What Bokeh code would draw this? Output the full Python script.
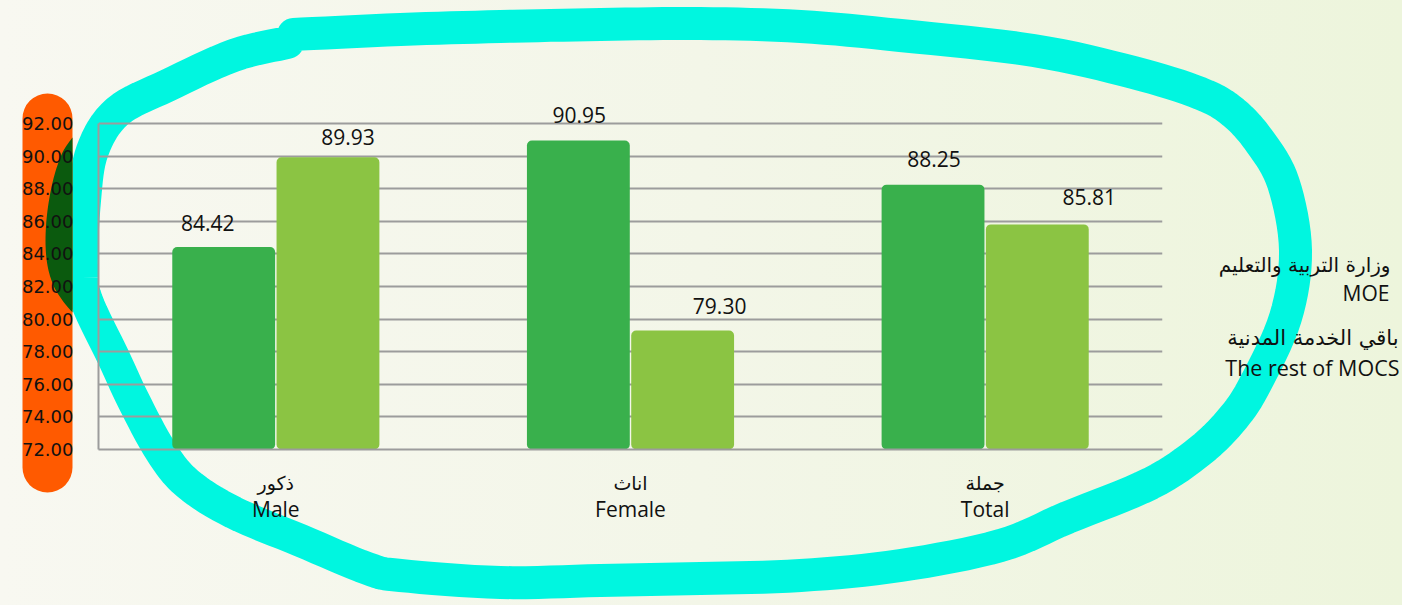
import json
from bokeh.plotting import figure
from bokeh.layouts import column
from bokeh.models import (ColumnDataSource, FactorRange, Range1d, CategoricalAxis,
                          FixedTicker, NumeralTickFormatter, LabelSet,
                          CustomJSTickFormatter)
from bokeh.transform import dodge
from bokeh.core.properties import value
from bokeh.embed import file_html
from bokeh.resources import INLINE

# ---------------- data ----------------
categories = ["Male", "Female", "Total"]
categories_ar = ["ذكور", "اناث", "جملة"]
moe = [84.42, 90.95, 88.25]
mocs = [89.93, 79.30, 85.81]
series_ar = ["وزارة التربية والتعليم", "باقي الخدمة المدنية"]
series_en = ["MOE", "The rest of MOCS"]
y_ticks = [72, 74, 76, 78, 80, 82, 84, 86, 88, 90, 92]

# ---------------- style / layout ----------------
W, H = 1402, 605
FL, FT, FR, FB = 98, 103, 1162, 449          # frame edges in page px
Y_TOP = 72 + (FB - FT) / ((FB - 123) / 20.0)  # keep 92 gridline at y=123

MOE_COLOR = "#39B04C"
MOCS_COLOR = "#8BC443"
GRID = "#9C9C9C"
TXT = "#111111"
moe_dx = [-16, 1, 1]
moe_dy = [16, 18, 18]
mocs_dx = [20, 37, 52]
mocs_dy = [12, 17, 19]

# decoration shapes (page pixel coords)
loop_x = [293, 400, 500, 600, 700, 800, 900, 1033, 1133, 1200, 1233, 1260, 1283, 1295,
          1285, 1255, 1233, 1200, 1150, 1067, 1000, 900, 800, 700, 600, 500, 400, 367,
          300, 233, 187, 160, 133, 113, 86, 81, 84, 92, 117, 167, 233, 287]
loop_y = [34, 29, 26, 24, 23, 26, 35, 50, 72, 93, 112, 142, 183, 250,
          317, 383, 417, 450, 483, 517, 545, 565, 575, 578, 580, 582, 575, 568,
          540, 512, 483, 450, 400, 357, 300, 267, 200, 150, 111, 85, 55, 42]
blob_x = [72, 62, 53, 47, 45, 47, 53, 62, 72]
blob_y = [137, 152, 178, 210, 240, 265, 285, 300, 312]


def smooth(xs, ys, n=8):
    """Catmull-Rom smoothing of a hand-drawn decoration path."""
    ox, oy = [], []
    m = len(xs)
    for i in range(m - 1):
        p0 = (xs[max(i - 1, 0)], ys[max(i - 1, 0)])
        p1 = (xs[i], ys[i])
        p2 = (xs[i + 1], ys[i + 1])
        p3 = (xs[min(i + 2, m - 1)], ys[min(i + 2, m - 1)])
        for k in range(n):
            t = k / n
            t2, t3 = t * t, t * t * t
            for idx, out in ((0, ox), (1, oy)):
                out.append(0.5 * ((2 * p1[idx]) + (-p0[idx] + p2[idx]) * t
                                  + (2 * p0[idx] - 5 * p1[idx] + 4 * p2[idx] - p3[idx]) * t2
                                  + (-p0[idx] + 3 * p1[idx] - 3 * p2[idx] + p3[idx]) * t3))
    ox.append(xs[-1])
    oy.append(ys[-1])
    return ox, oy


# ---------------- decoration layer (back) ----------------
deco = figure(width=W, height=H, x_range=Range1d(0, W), y_range=Range1d(H, 0),
              min_border=0, x_axis_location=None, y_axis_location=None,
              output_backend="svg", toolbar_location=None, frame_align=False)
deco.grid.grid_line_color = None
deco.outline_line_color = None
deco.background_fill_alpha = 0
deco.border_fill_alpha = 0
deco.styles = {"background": "linear-gradient(to right, #F8F8F1 0%, #F3F6E8 50%, #EDF5DC 100%)"}

lx, ly = smooth(loop_x, loop_y)
deco.line(lx, ly, line_color="#00F6E0", line_width=33,
          line_join="round", line_cap="round")
deco.quad(left=22, right=72, top=93, bottom=492, fill_color="#FF5A00",
          line_color=None, border_radius=25)
bx, by = smooth(blob_x, blob_y)
deco.patch(bx, by, fill_color="#0B5A0E", line_color=None)

leg_src = ColumnDataSource(dict(
    txt=[series_ar[0], series_en[0], series_ar[1], series_en[1]],
    x=[1390, 1389, 1398, 1399], y=[264, 292, 337, 367],
    font=["DejaVu Sans", "Open Sans", "DejaVu Sans", "Open Sans"],
    size=["20px", "21px", "21px", "21.5px"],
))
deco.text(x="x", y="y", text="txt", source=leg_src, text_align="right",
          text_baseline="middle", text_font="font", text_font_size="size",
          text_color=TXT)

# ---------------- chart layer (front) ----------------
src = ColumnDataSource(dict(
    cat=categories, moe=moe, mocs=mocs,
    moe_lbl=[f"{v:.2f}" for v in moe], mocs_lbl=[f"{v:.2f}" for v in mocs],
    moe_dx=moe_dx, moe_dy=moe_dy, mocs_dx=mocs_dx, mocs_dy=mocs_dy,
))

p = figure(x_range=FactorRange(factors=categories, range_padding=0),
           y_range=Range1d(72, Y_TOP),
           width=W, height=H, output_backend="svg", toolbar_location=None,
           min_border_left=FL, min_border_top=FT,
           min_border_right=W - FR, min_border_bottom=H - FB,
           margin=(-H, 0, 0, 0), frame_align=False)
p.background_fill_alpha = 0
p.border_fill_alpha = 0
p.outline_line_color = None

p.vbar(x=dodge("cat", -0.147, range=p.x_range), top="moe", bottom=72, width=0.29,
       source=src, fill_color=MOE_COLOR, line_color=None, border_radius=5)
p.vbar(x=dodge("cat", 0.147, range=p.x_range), top="mocs", bottom=72, width=0.29,
       source=src, fill_color=MOCS_COLOR, line_color=None, border_radius=5)

lbl_font = value("Open Sans")
p.add_layout(LabelSet(x=dodge("cat", -0.147, range=p.x_range), y="moe", text="moe_lbl",
                      x_offset="moe_dx", y_offset="moe_dy", source=src,
                      text_align="center", text_baseline="bottom",
                      text_font=lbl_font, text_font_size="21px", text_color=TXT))
p.add_layout(LabelSet(x=dodge("cat", 0.147, range=p.x_range), y="mocs", text="mocs_lbl",
                      x_offset="mocs_dx", y_offset="mocs_dy", source=src,
                      text_align="center", text_baseline="bottom",
                      text_font=lbl_font, text_font_size="21px", text_color=TXT))

# y axis
yax = p.yaxis[0]
yax.ticker = FixedTicker(ticks=y_ticks)
yax.formatter = NumeralTickFormatter(format="0.00")
yax.bounds = (72, 92)
yax.major_label_text_font = "DejaVu Sans"
yax.major_label_text_font_size = "18px"
yax.major_label_text_color = TXT
yax.major_tick_out = 0
yax.major_tick_in = 0
yax.minor_tick_line_color = None
yax.major_label_standoff = 25
yax.axis_line_color = GRID
yax.axis_line_width = 2

p.ygrid.ticker = FixedTicker(ticks=y_ticks)
p.ygrid.grid_line_color = GRID
p.ygrid.grid_line_width = 2
p.xgrid.grid_line_color = None

# x axes: Arabic line, then English line
ar_map = json.dumps(dict(zip(categories, categories_ar)), ensure_ascii=False)
xax = p.xaxis[0]
xax.formatter = CustomJSTickFormatter(code=f"const m = {ar_map}; return (tick in m) ? m[tick] : tick;")
xax.major_label_text_font = "DejaVu Sans"
xax.major_label_text_font_size = "19px"
xax.major_label_text_color = TXT
xax.major_tick_line_color = None
xax.major_label_standoff = 16
xax.axis_line_color = GRID
xax.axis_line_width = 2

xax2 = CategoricalAxis()
xax2.major_label_text_font = "Open Sans"
xax2.major_label_text_font_size = "21px"
xax2.major_label_text_color = TXT
xax2.major_tick_line_color = None
xax2.axis_line_color = None
xax2.major_label_standoff = -8
p.add_layout(xax2, "below")

layout = column(deco, p, spacing=0)

open("out.html", "w").write(file_html(layout, INLINE))
